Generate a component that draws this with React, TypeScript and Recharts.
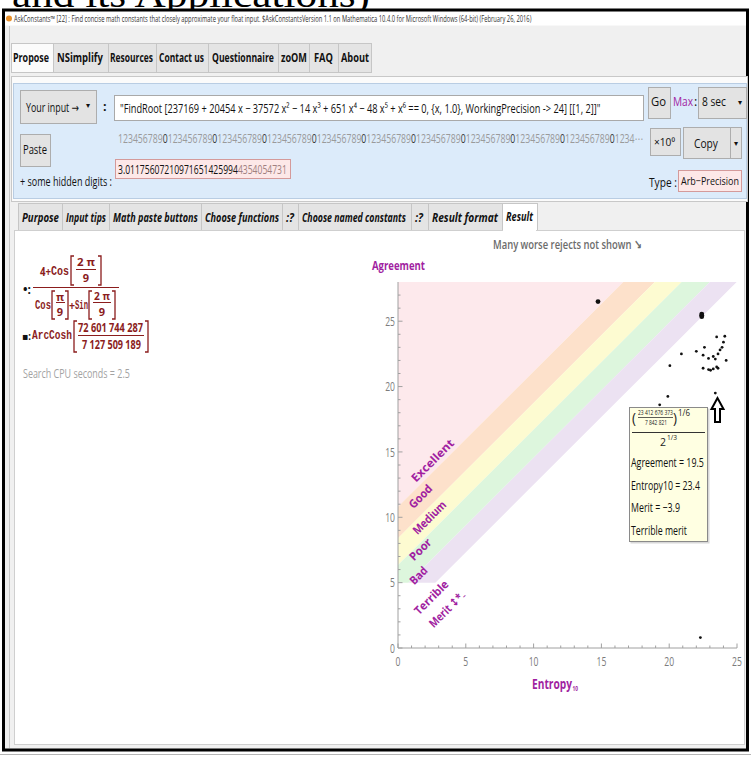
import React from 'react';
import { ComposedChart, Area, Scatter, XAxis, YAxis } from 'recharts';

const UI = "'Open Sans', 'Noto Sans', 'DejaVu Sans', sans-serif";
const MONO = "'Liberation Mono', 'DejaVu Sans Mono', monospace";
const SERIF = "'Liberation Serif', 'DejaVu Serif', serif";
const PURPLE = '#a11fa1';
const MAROON = '#8b1d1d';
const AXIS = '#a0a0a0';
const TICKTXT = '#7c7c7c';

// ---------- chart data ----------
const xMajorTicks = [0, 5, 10, 15, 20, 25];
const xMinorTicks = [0, 1, 2, 3, 4, 5, 6, 7, 8, 9, 10, 11, 12, 13, 14, 15, 16, 17, 18, 19, 20, 21, 22, 23, 24, 25];
const yMajorTicks = [0, 5, 10, 15, 20, 25];
const yMinorTicks = [0, 1, 2, 3, 4, 5, 6, 7, 8, 9, 10, 11, 12, 13, 14, 15, 16, 17, 18, 19, 20, 21, 22, 23, 24, 25, 26, 27];

const meritBands = ['Excellent', 'Good', 'Medium', 'Poor', 'Bad', 'Terrible'];
const bandColors = ['#fde9ec', '#fde1cb', '#fdfbd1', '#ddf6dd', '#ece2f2'];
// boundary lines Agreement = slope * Entropy + intercept (upper edge of each lower band)
const bandIntercepts = [10.8, 8.4, 6.35, 4.2, 2.15];
const BAND_SLOPE = 1.035;
const BAND_FLOOR = 5;
const X_MAX = 25;
const Y_MAX = 28;

const entropy = [23.5, 24.1, 24.0, 23.9, 23.75, 23.6, 22.6, 22.0, 20.9, 22.5, 23.25, 22.9, 23.4, 24.2, 20.05, 22.5, 22.9, 23.05, 23.25, 23.5, 23.6, 19.9, 19.3, 23.4, 22.3];
const agreement = [23.8, 23.85, 23.4, 23.0, 22.8, 22.5, 23.0, 22.7, 22.5, 22.4, 22.3, 22.15, 22.1, 22.0, 21.6, 21.4, 21.3, 21.25, 21.35, 21.5, 21.4, 19.25, 18.6, 19.5, 0.8];
const bigEntropy = [14.75, 22.4, 22.4, 22.4];
const bigAgreement = [26.5, 25.35, 25.45, 25.55];

const points = entropy.map((x, i) => ({ x, y: agreement[i] }));
const bigPoints = bigEntropy.map((x, i) => ({ x, y: bigAgreement[i] }));

const clampY = (v: number) => Math.min(Y_MAX, Math.max(BAND_FLOOR, v));
const lineAt = (c: number, x: number) => BAND_SLOPE * x + c;
const breakSet = new Set<number>([0, X_MAX]);
bandIntercepts.forEach((c) => {
  [(BAND_FLOOR - c) / BAND_SLOPE, (Y_MAX - c) / BAND_SLOPE].forEach((x) => {
    if (x > 0 && x < X_MAX) breakSet.add(+x.toFixed(4));
  });
});
const bandTable: any[] = Array.from(breakSet)
  .sort((a, b) => a - b)
  .map((x) => {
    const row: any = { x };
    bandColors.forEach((_, i) => {
      row['band' + i] = [
        clampY(lineAt(bandIntercepts[i], x)),
        i === 0 ? Y_MAX : clampY(lineAt(bandIntercepts[i - 1], x)),
      ];
    });
    return row;
  });

// ---------- text helper: horizontally scaled to a target width ----------
let measureCtx: CanvasRenderingContext2D | null = null;
const measure = (txt: string, font: string) => {
  if (!measureCtx) measureCtx = document.createElement('canvas').getContext('2d');
  if (!measureCtx) return 0;
  measureCtx.font = font;
  return measureCtx.measureText(txt).width;
};

type Seg = { t: string; c?: string };
type TP = {
  x: number; y: number; w?: number; s?: number; c?: string; b?: number; i?: boolean;
  a?: 'start' | 'middle' | 'end'; f?: string; t?: string; segs?: Seg[]; rot?: number;
};
const T = ({ x, y, w, s = 12, c = '#111', b = 400, i, a = 'start', f = UI, t, segs, rot }: TP) => {
  const str = segs ? segs.map((g) => g.t).join('') : t || '';
  const font = `${i ? 'italic ' : ''}${b} ${s}px ${f}`;
  const nat = measure(str, font);
  const sx = w && nat > 0 ? w / nat : 1;
  const tr = `translate(${x} ${y})${rot !== undefined ? ` rotate(${rot})` : ''} scale(${sx.toFixed(4)} 1)`;
  return (
    <text
      x={0}
      y={0}
      transform={tr}
      fontSize={s}
      fill={c}
      fontWeight={b}
      fontStyle={i ? 'italic' : 'normal'}
      textAnchor={a}
      fontFamily={f}
      dominantBaseline="central"
    >
      {segs ? segs.map((g, k) => <tspan key={k} fill={g.c || c}>{g.t}</tspan>) : str}
    </text>
  );
};

const Btn = ({ x0, y0, x1, y1 }: { x0: number; y0: number; x1: number; y1: number }) => (
  <rect x={x0 + 0.5} y={y0 + 0.5} width={x1 - x0} height={y1 - y0} fill="#e3e3e3" stroke="#adadad" />
);

const Bracket = ({ x, y0, y1, right, c = MAROON }: { x: number; y0: number; y1: number; right?: boolean; c?: string }) => (
  <path
    d={right ? `M${x - 3},${y0} H${x} V${y1} H${x - 3}` : `M${x + 3},${y0} H${x} V${y1} H${x + 3}`}
    fill="none"
    stroke={c}
    strokeWidth={1.3}
  />
);

const XTick = (p: any) => {
  const v = p.payload?.value;
  const major = xMajorTicks.includes(v);
  return (
    <g>
      <line x1={p.x} x2={p.x} y1={p.y} y2={p.y - (major ? 4.5 : 2.5)} stroke={AXIS} />
      {major && <T x={p.x} y={p.y + 13} a="middle" s={12.5} c={TICKTXT} w={String(v).length * 4.9} t={String(v)} />}
    </g>
  );
};
const YTick = (p: any) => {
  const v = p.payload?.value;
  const major = yMajorTicks.includes(v);
  return (
    <g>
      <line x1={p.x} x2={p.x + (major ? 4.5 : 2.5)} y1={p.y} y2={p.y} stroke={AXIS} />
      {major && <T x={p.x - 3} y={p.y} a="end" s={12.5} c={TICKTXT} w={String(v).length * 4.9} t={String(v)} />}
    </g>
  );
};

const smallDot = (p: any) => <circle cx={p.cx} cy={p.cy} r={1.4} fill="#111" />;
const bigDot = (p: any) => <circle cx={p.cx} cy={p.cy} r={2.4} fill="#111" />;

const tabs1 = [
  { t: 'Propose', x0: 11, x1: 53, tx: 13, tw: 36, sel: true },
  { t: 'NSimplify', x0: 53, x1: 108, tx: 57, tw: 46 },
  { t: 'Resources', x0: 108, x1: 156, tx: 110, tw: 43 },
  { t: 'Contact us', x0: 156, x1: 208, tx: 159, tw: 45 },
  { t: 'Questionnaire', x0: 208, x1: 278, tx: 212, tw: 62 },
  { t: 'zoOM', x0: 278, x1: 309, tx: 281, tw: 26 },
  { t: 'FAQ', x0: 309, x1: 338, tx: 314, tw: 19 },
  { t: 'About', x0: 338, x1: 371, tx: 341, tw: 28 },
];
const tabs2 = [
  { t: 'Purpose', x0: 18, x1: 62, tx: 22, tw: 37 },
  { t: 'Input tips', x0: 62, x1: 109, tx: 66, tw: 40 },
  { t: 'Math paste buttons', x0: 109, x1: 201, tx: 113, tw: 85 },
  { t: 'Choose functions', x0: 201, x1: 282, tx: 205, tw: 74 },
  { t: ':?', x0: 282, x1: 298, tx: 286, tw: 8 },
  { t: 'Choose named constants', x0: 298, x1: 411, tx: 302, tw: 104 },
  { t: ':?', x0: 411, x1: 428, tx: 415, tw: 8 },
  { t: 'Result format', x0: 428, x1: 502, tx: 432, tw: 66 },
  { t: 'Result', x0: 502, x1: 537, tx: 506, tw: 27, sel: true },
];

const bandLabels = [
  { t: 'Excellent', x: 432, y: 460, w: 55 },
  { t: 'Good', x: 420, y: 496, w: 28 },
  { t: 'Medium', x: 429, y: 517, w: 42 },
  { t: 'Poor', x: 420, y: 549, w: 26 },
  { t: 'Bad', x: 418, y: 575, w: 20 },
  { t: 'Terrible', x: 431, y: 597, w: 43 },
];

const digitSegs: Seg[] = [];
for (let k = 0; k < 10; k++) {
  digitSegs.push({ t: '123456789' });
  digitSegs.push({ t: '0', c: '#3a3a3a' });
}
digitSegs.push({ t: '1234⋯' });

export default function App() {
  return (
    <div style={{ position: 'absolute', left: 0, top: 0, width: 751, height: 758, background: '#ffffff', overflow: 'hidden' }}>
      {/* back layer: window chrome */}
      <svg width={751} height={758} style={{ position: 'absolute', left: 0, top: 0 }}>
        <text x={12} y={7} fontSize={38} fontFamily={SERIF} fill="#000" textLength={358} lengthAdjust="spacingAndGlyphs">and its Applications)</text>
        <rect x={3} y={10} width={745} height={740} fill="#f0f0f0" />
        <rect x={5} y={11.5} width={741} height={14} fill="#ffffff" />
        <rect x={3.5} y={10} width={744} height={740} fill="none" stroke="#000" strokeWidth={3} />
        <line x1={0} y1={754.5} x2={751} y2={754.5} stroke="#b5b5b5" />
        <line x1={9.5} y1={26} x2={9.5} y2={748} stroke="#c8c8c8" />
        <circle cx={9} cy={18.5} r={3} fill="#e8902a" />
        <T x={14} y={18.5} w={524} s={8.5} c="#333" t="AskConstants™ [22] : Find concise math constants that closely approximate your float input.  $AskConstantsVersion 1.1  on  Mathematica  10.4.0 for Microsoft Windows (64-bit) (February 26, 2016)" />

        {/* top tabs */}
        {tabs1.map((tb) => (
          <g key={tb.t}>
            <rect x={tb.x0 + 0.5} y={43.5} width={tb.x1 - tb.x0} height={29} fill={tb.sel ? '#fbfbfb' : '#e4e4e4'} stroke="#c6c6c6" />
            <T x={tb.tx} y={57} w={tb.tw} s={13} b={700} c="#111" t={tb.t} />
          </g>
        ))}
        <rect x={11.5} y={76.5} width={736} height={125} fill="#fbfbfb" stroke="#c8c8c8" />

        {/* input panel */}
        <rect x={13.5} y={83.5} width={733} height={115} fill="#dcebfa" stroke="#b9cde3" />
        <Btn x0={20} y0={90} x1={96} y1={123} />
        <T x={26} y={107} w={53} s={12.5} t="Your input →" />
        <T x={88} y={104} s={8} a="middle" t="▾" />
        <T x={103} y={106} s={12.5} b={700} t=":" />
        <rect x={114.5} y={95.5} width={529} height={25} fill="#ffffff" stroke="#a9a9a9" />
        <T x={120} y={108} w={486} s={12.5} t={'"FindRoot [237169 + 20454 x − 37572 x² − 14 x³ + 651 x⁴ − 48 x⁵ + x⁶  ==  0, {x, 1.0}, WorkingPrecision -> 24] [[1, 2]]"'} />
        <Btn x0={648} y0={87} x1={670} y1={118} />
        <T x={651} y={101} w={15} s={12.5} t="Go" />
        <T x={673} y={101} w={20} s={12.5} c={PURPLE} t="Max" />
        <T x={694} y={101} s={12.5} t=":" />
        <Btn x0={698} y0={87} x1={746} y1={118} />
        <T x={702} y={101} w={24} s={12.5} t="8 sec" />
        <T x={740} y={101} s={8} a="middle" t="▾" />

        <T x={118} y={137} w={526} s={12.5} c="#9a9a9a" segs={digitSegs} />
        <Btn x0={20} y0={134} x1={50} y1={166} />
        <T x={23} y={149} w={24} s={12.5} t="Paste" />
        <Btn x0={650} y0={128} x1={680} y1={155} />
        <T x={654} y={142} w={21} s={11} t="×10⁰" />
        <Btn x0={683} y0={127} x1={741} y1={158} />
        <line x1={730.5} y1={128} x2={730.5} y2={158} stroke="#adadad" />
        <T x={694} y={143} w={24} s={12.5} t="Copy" />
        <T x={736} y={142} s={8} a="middle" t="▾" />

        <T x={20} y={181} w={92} s={12} t="+ some hidden digits :" />
        <rect x={115.5} y={159.5} width={175} height={19} fill="#fde8e8" stroke="#d49a9a" />
        <T x={118} y={169} w={169} s={12} segs={[{ t: '3.01175607210971651425994' }, { t: '4354054731', c: '#a08080' }]} />
        <T x={649} y={182} w={28} s={12} t="Type :" />
        <rect x={678.5} y={170.5} width={63} height={21} fill="#fde8e8" stroke="#d49a9a" />
        <T x={681} y={181} w={58} s={11.5} t="Arb−Precision" />

        {/* second tabs */}
        {tabs2.map((tb, k) => (
          <g key={k}>
            <rect x={tb.x0 + 0.5} y={203.5} width={tb.x1 - tb.x0} height={27} fill={tb.sel ? '#ffffff' : '#e4e4e4'} stroke="#c6c6c6" />
            <T x={tb.tx} y={217} w={tb.tw} s={12} b={700} i t={tb.t} />
          </g>
        ))}
        <rect x={14.5} y={230.5} width={730} height={514} fill="#ffffff" stroke="#cfcfcf" />
        <rect x={503} y={229} width={33} height={3} fill="#ffffff" />

        {/* result formulas */}
        <T x={23} y={289} s={12} b={700} t="•:" />
        <T x={40} y={271} w={11} s={12} b={700} c={MAROON} t="4+" />
        <T x={51} y={271} w={18} s={13} b={700} f={MONO} c={MAROON} t="Cos" />
        <Bracket x={71} y0={256} y1={285} />
        <T x={77} y={262} w={18} s={11} b={700} c={MAROON} t="2 π" />
        <line x1={76} y1={269.5} x2={96} y2={269.5} stroke={MAROON} />
        <T x={86} y={277.5} s={11} b={700} c={MAROON} a="middle" t="9" />
        <Bracket x={101} y0={256} y1={285} right />
        <line x1={33} y1={287.5} x2={119} y2={287.5} stroke={MAROON} strokeWidth={1.2} />
        <T x={35} y={305} w={16} s={13} b={700} f={MONO} c={MAROON} t="Cos" />
        <Bracket x={52} y0={291} y1={319} />
        <T x={60} y={296} s={11} b={700} c={MAROON} a="middle" t="π" />
        <line x1={56} y1={302.5} x2={65} y2={302.5} stroke={MAROON} />
        <T x={60} y={311} s={11} b={700} c={MAROON} a="middle" t="9" />
        <Bracket x={68} y0={291} y1={319} right />
        <T x={69} y={305} w={6} s={12} b={700} c={MAROON} t="+" />
        <T x={75} y={305} w={13} s={13} b={700} f={MONO} c={MAROON} t="Sin" />
        <Bracket x={89} y0={291} y1={319} />
        <T x={94} y={296} w={16} s={11} b={700} c={MAROON} t="2 π" />
        <line x1={93} y1={302.5} x2={111} y2={302.5} stroke={MAROON} />
        <T x={102} y={311} s={11} b={700} c={MAROON} a="middle" t="9" />
        <Bracket x={115} y0={291} y1={319} right />

        <T x={22} y={336} w={9} s={10} b={700} t="▪:" />
        <T x={32} y={336} w={40} s={13} b={700} f={MONO} c={MAROON} t="ArcCosh" />
        <Bracket x={74} y0={321} y1={352} />
        <T x={78} y={328} w={65} s={12} b={700} c={MAROON} t="72 601 744 287" />
        <line x1={78} y1={335.5} x2={144} y2={335.5} stroke={MAROON} />
        <T x={82} y={344} w={59} s={12} b={700} c={MAROON} t="7 127 509 189" />
        <Bracket x={148} y0={321} y1={352} right />
        <T x={23} y={373} w={107} s={13} c="#a3a3a3" t="Search CPU seconds = 2.5" />

        {/* chart texts */}
        <T x={493} y={244} w={149} s={13} b={600} c="#6b6b6b" t="Many worse rejects not shown ↘" />
        <T x={372} y={265} w={53} s={13} b={700} c={PURPLE} t="Agreement" />
        <T x={532} y={684} w={40} s={14} b={700} c={PURPLE} t="Entropy" />
        <T x={572.5} y={689} w={5.5} s={7} b={700} c={PURPLE} t="10" />
      </svg>

      {/* chart */}
      <div style={{ position: 'absolute', left: 348, top: 262 }}>
        <ComposedChart width={400} height={420} data={bandTable} margin={{ top: 20, right: 11, bottom: 4, left: 0 }}>
          {bandColors.map((c, i) => (
            <Area
              key={meritBands[i]}
              name={meritBands[i]}
              dataKey={'band' + i}
              type="linear"
              stroke="none"
              fill={c}
              fillOpacity={1}
              dot={false}
              activeDot={false}
              isAnimationActive={false}
            />
          ))}
          <Scatter name="candidates" data={points} dataKey="y" shape={smallDot} isAnimationActive={false} />
          <Scatter name="best" data={bigPoints} dataKey="y" shape={bigDot} isAnimationActive={false} />
          <XAxis type="number" dataKey="x" domain={[0, X_MAX]} ticks={xMinorTicks} interval={0} tick={XTick}
            tickLine={false} tickSize={0} tickMargin={0} axisLine={{ stroke: AXIS }} height={30} allowDataOverflow />
          <YAxis type="number" domain={[0, Y_MAX]} ticks={yMinorTicks} interval={0} tick={YTick}
            tickLine={false} tickSize={0} tickMargin={0} axisLine={{ stroke: AXIS }} width={50} allowDataOverflow />
        </ComposedChart>
      </div>

      {/* front layer: band labels, tooltip */}
      <svg width={751} height={758} style={{ position: 'absolute', left: 0, top: 0, pointerEvents: 'none' }}>
        {bandLabels.map((l) => (
          <T key={l.t} x={l.x} y={l.y} w={l.w} s={11.5} b={700} c={PURPLE} a="middle" rot={-45} t={l.t} />
        ))}
        <T x={447} y={609} w={46} s={11.5} b={700} c={PURPLE} a="middle" rot={-45} t="Merit ↕*₋" />

        <rect x={630.5} y={408.5} width={79} height={135} fill="#d8d8d8" />
        <rect x={629.5} y={407.5} width={78} height={134} fill="#ffffe2" stroke="#8a8a8a" />
        <T x={632} y={417} s={15} c="#222" w={4} t="(" />
        <T x={638} y={412} w={35} s={8} c="#222" t="23 412 676 373" />
        <line x1={638} y1={417.5} x2={673} y2={417.5} stroke="#333" strokeWidth={0.8} />
        <T x={645} y={422} w={22} s={8} c="#222" t="7 842 821" />
        <T x={673} y={417} s={15} c="#222" w={4} t=")" />
        <T x={678} y={412} w={12} s={9} c="#222" t="1/6" />
        <line x1={632} y1={432.5} x2={705} y2={432.5} stroke="#333" />
        <T x={660} y={442} s={11} c="#222" w={6} t="2" />
        <T x={667} y={437} w={10} s={8} c="#222" t="1/3" />
        <T x={631} y={462} w={73} s={13} c="#111" t="Agreement = 19.5" />
        <T x={631} y={485} w={69} s={13} c="#111" t="Entropy10 = 23.4" />
        <T x={631} y={507} w={49} s={13} c="#111" t="Merit = −3.9" />
        <T x={631} y={530} w={56} s={13} c="#111" t="Terrible merit" />

        <path d="M717.5,398 L711.5,409 L715,409 L715,422 L720,422 L720,409 L723.5,409 Z" fill="#ffffff" stroke="#000" strokeWidth={2} strokeLinejoin="miter" />
      </svg>
    </div>
  );
}
